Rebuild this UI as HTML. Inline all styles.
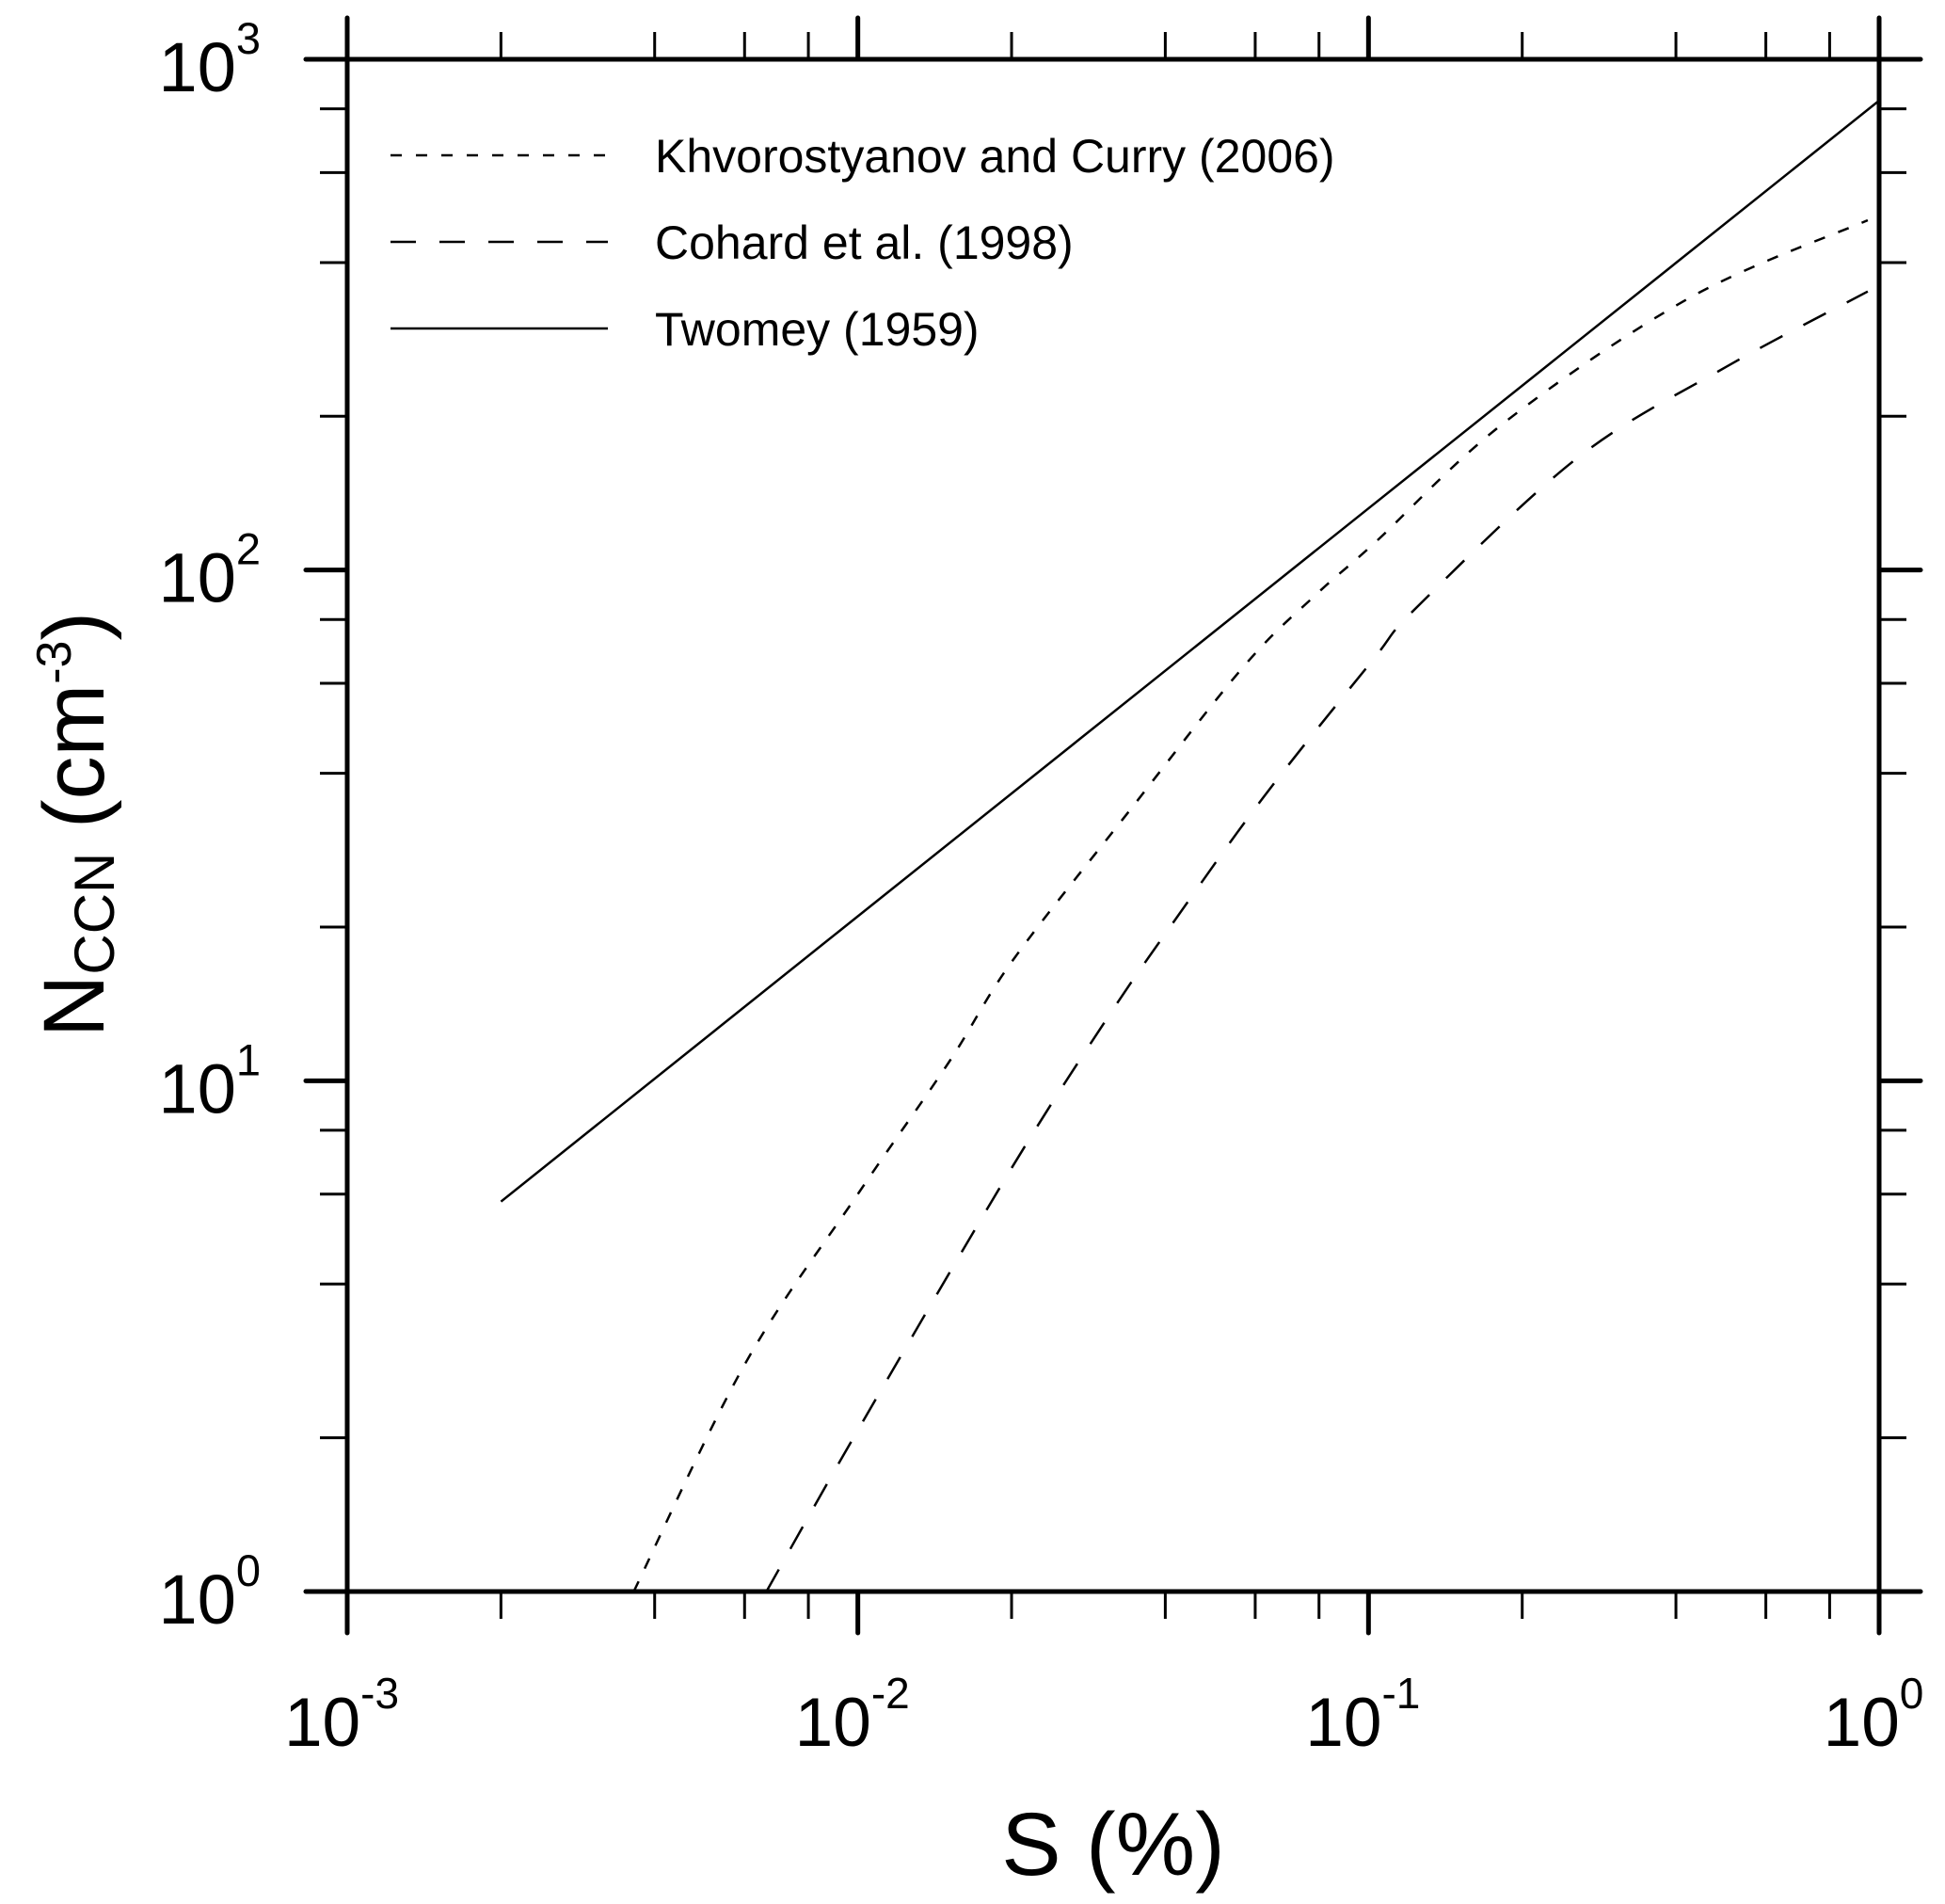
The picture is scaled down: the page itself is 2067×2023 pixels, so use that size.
<!DOCTYPE html>
<html><head><meta charset="utf-8"><style>
html,body{margin:0;padding:0;background:#fff;}
svg{display:block;font-family:"Liberation Sans",Arial,sans-serif;}
</style></head><body>
<svg id="chart" width="2067" height="2023" viewBox="0 0 2067 2023" xmlns="http://www.w3.org/2000/svg">
<g id="curves"></g>
<g id="axes"></g>
<g id="labels"></g>
<text x="1183" y="1992" font-size="95" text-anchor="middle">S (%)</text>
<text transform="translate(110,876) rotate(-90)" font-size="92" text-anchor="middle">N<tspan font-size="60" dy="11">CCN</tspan><tspan dy="-11"> (cm</tspan><tspan font-size="52" dy="-35">-3</tspan><tspan dy="35">)</tspan></text>
<g id="legend">
<line x1="415" y1="165" x2="646" y2="165" stroke="#000" stroke-width="2.5" stroke-dasharray="12 15"/>
<text x="696" y="183" font-size="50">Khvorostyanov and Curry (2006)</text>
<line x1="415" y1="257" x2="646" y2="257" stroke="#000" stroke-width="2.5" stroke-dasharray="27 25"/>
<text x="696" y="275" font-size="50">Cohard et al. (1998)</text>
<line x1="415" y1="349" x2="646" y2="349" stroke="#000" stroke-width="2.5"/>
<text x="696" y="367" font-size="50">Twomey (1959)</text>
</g>
</svg>
<script>
const xTickExps = [-3, -2, -1, 0];
const yTickExps = [0, 1, 2, 3];
const minorMults = [2, 4, 6, 8];
const twomeyS = [0.002, 0.01, 0.1, 1];
const twomeyN = [5.8, 21, 132, 830];
const kcS = [0.00364, 0.00601, 0.01008, 0.0151, 0.0201, 0.0342, 0.0573, 0.0794, 0.1028, 0.184, 0.425, 0.95];
const kcN = [1.0, 2.79, 6.07, 10.9, 17.2, 34, 65.2, 90, 113, 194, 341, 484];
const cohS = [0.00662, 0.01, 0.0201, 0.0307, 0.0403, 0.062, 0.1014, 0.125, 0.257, 0.502, 0.95];
const cohN = [1.0, 2.07, 6.8, 13.2, 19.6, 35.7, 66.2, 85, 166, 250, 351];

const L=369,R=1997,T=63,B=1691;
const xs=v=>L+(Math.log10(v)+3)/3*(R-L);
const ys=v=>B-(Math.log10(v))/3*(B-T);
const NS='http://www.w3.org/2000/svg';
function mk(tag,attrs,parent){const e=document.createElementNS(NS,tag);for(const k in attrs)e.setAttribute(k,attrs[k]);parent.appendChild(e);return e;}
const axes=document.getElementById('axes'),labels=document.getElementById('labels'),curves=document.getElementById('curves');

function pathFrom(S,N){
  const p=S.map((s,i)=>[xs(s),ys(N[i])]);
  let d='M'+p[0][0].toFixed(1)+','+p[0][1].toFixed(1);
  for(let i=0;i<p.length-1;i++){
    const p0=p[Math.max(0,i-1)],p1=p[i],p2=p[i+1],p3=p[Math.min(p.length-1,i+2)];
    const c1=[p1[0]+(p2[0]-p0[0])/6,p1[1]+(p2[1]-p0[1])/6];
    const c2=[p2[0]-(p3[0]-p1[0])/6,p2[1]-(p3[1]-p1[1])/6];
    d+=' C'+c1.map(v=>v.toFixed(1)).join(',')+' '+c2.map(v=>v.toFixed(1)).join(',')+' '+p2.map(v=>v.toFixed(1)).join(',');
  }
  return d;
}
let e;
e=mk('path',{d:pathFrom(twomeyS,twomeyN),fill:'none',stroke:'#000','stroke-width':2.5},curves);


e=mk('path',{d:pathFrom(kcS,kcN),fill:'none',stroke:'#000','stroke-width':2.5,'stroke-dasharray':'12 15'},curves);


e=mk('path',{d:pathFrom(cohS,cohN),fill:'none',stroke:'#000','stroke-width':2.5,'stroke-dasharray':'27 25'},curves);



e=mk('rect',{x:L,y:T,width:R-L,height:B-T,fill:'none',stroke:'#000','stroke-width':5},axes);


const MAJ=44,MIN=29;
xTickExps.forEach(ex=>{
  const x=xs(Math.pow(10,ex));
  e=mk('line',{x1:x,y1:B,x2:x,y2:B+MAJ,stroke:'#000','stroke-width':5,'stroke-linecap':'round'},axes);
  
  
  e=mk('line',{x1:x,y1:T,x2:x,y2:T-MAJ,stroke:'#000','stroke-width':5,'stroke-linecap':'round'},axes);
  
  
  const t=mk('text',{x:x-6,y:1855,'font-size':73,'text-anchor':'middle'},labels);
  
  
  t.innerHTML='10<tspan font-size="46" dy="-40">'+ex+'</tspan>';
  if(ex<0){minorMults.forEach(m=>{
    const xm=xs(m*Math.pow(10,ex));
    e=mk('line',{x1:xm,y1:B,x2:xm,y2:B+MIN,stroke:'#000','stroke-width':3},axes);
    
    
    e=mk('line',{x1:xm,y1:T,x2:xm,y2:T-MIN,stroke:'#000','stroke-width':3},axes);
    
    
  });}
});
yTickExps.forEach(ex=>{
  const y=ys(Math.pow(10,ex));
  e=mk('line',{x1:L,y1:y,x2:L-MAJ,y2:y,stroke:'#000','stroke-width':5,'stroke-linecap':'round'},axes);
  
  
  e=mk('line',{x1:R,y1:y,x2:R+MAJ,y2:y,stroke:'#000','stroke-width':5,'stroke-linecap':'round'},axes);
  
  
  const t=mk('text',{x:277,y:y+34,'font-size':74,'text-anchor':'end'},labels);
  
  
  t.innerHTML='10<tspan font-size="47" dy="-40">'+ex+'</tspan>';
  if(ex<3){minorMults.forEach(m=>{
    const ym=ys(m*Math.pow(10,ex));
    e=mk('line',{x1:L,y1:ym,x2:L-MIN,y2:ym,stroke:'#000','stroke-width':3},axes);
    
    
    e=mk('line',{x1:R,y1:ym,x2:R+MIN,y2:ym,stroke:'#000','stroke-width':3},axes);
    
    
  });}
});
</script>
</body></html>
